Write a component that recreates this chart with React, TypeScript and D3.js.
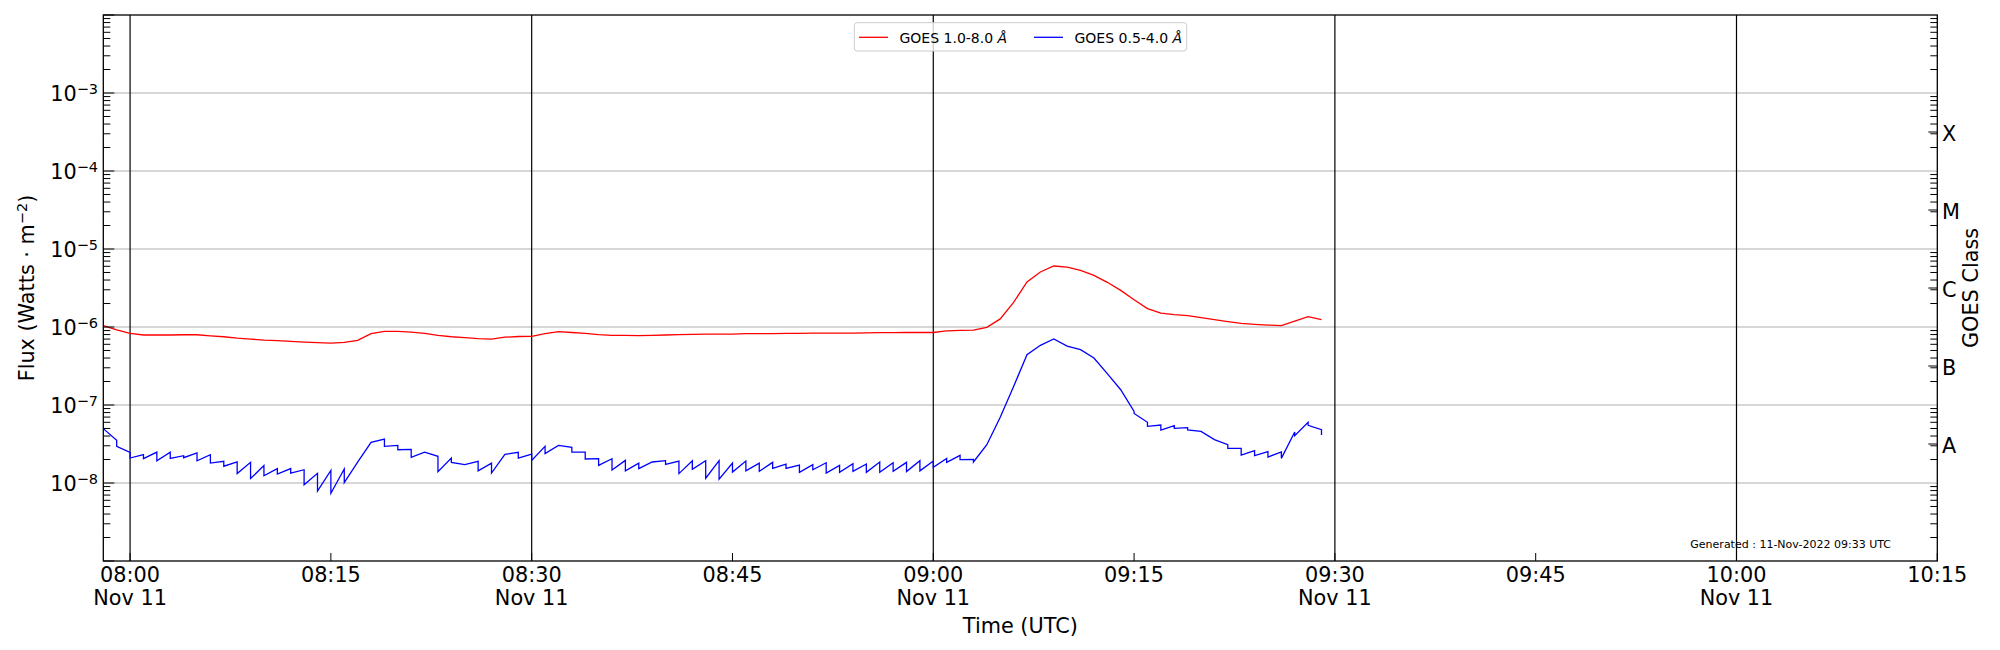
import { useEffect, useRef } from 'react';
import * as d3 from 'd3';

const WIDTH = 2000;
const HEIGHT = 650;

// GOES samples, one per minute from 07:58 UTC
const startTime = new Date(Date.UTC(2022, 10, 11, 7, 58));
const endTime = new Date(Date.UTC(2022, 10, 11, 10, 15));

// GOES 1.0-8.0 A
const longFlux = [
  1.04e-6, 9.2e-7, 8.3e-7, 7.9e-7, 7.9e-7, 7.9e-7, 7.95e-7, 7.95e-7, 7.7e-7, 7.5e-7,
  7.2e-7, 7.0e-7, 6.8e-7, 6.7e-7, 6.55e-7, 6.4e-7, 6.3e-7, 6.2e-7, 6.35e-7, 6.75e-7,
  8.2e-7, 8.8e-7, 8.8e-7, 8.6e-7, 8.3e-7, 7.8e-7, 7.5e-7, 7.3e-7, 7.1e-7, 7.0e-7,
  7.4e-7, 7.55e-7, 7.6e-7, 8.2e-7, 8.7e-7, 8.5e-7, 8.3e-7, 8.0e-7, 7.8e-7, 7.8e-7,
  7.73e-7, 7.8e-7, 7.9e-7, 7.97e-7, 8.05e-7, 8.1e-7, 8.1e-7, 8.1e-7, 8.2e-7, 8.2e-7,
  8.2e-7, 8.3e-7, 8.3e-7, 8.37e-7, 8.37e-7, 8.37e-7, 8.37e-7, 8.4e-7, 8.45e-7, 8.45e-7,
  8.5e-7, 8.5e-7, 8.5e-7, 8.9e-7, 9.05e-7, 9.1e-7, 9.9e-7, 1.27e-6, 2.07e-6, 3.78e-6,
  5.07e-6, 6.05e-6, 5.87e-6, 5.32e-6, 4.59e-6, 3.74e-6, 2.95e-6, 2.24e-6, 1.72e-6, 1.51e-6,
  1.44e-6, 1.4e-6, 1.32e-6, 1.24e-6, 1.17e-6, 1.11e-6, 1.08e-6, 1.06e-6, 1.04e-6, 1.19e-6,
  1.36e-6, 1.24e-6,
];

// GOES 0.5-4.0 A: each minute the trace reaches shortHigh then drops to shortLow
const shortHigh = [
  4.98e-8, 3.52e-8, 2.47e-8, 2.31e-8, 2.49e-8, 2.49e-8, 2.24e-8, 2.43e-8, 2.31e-8, 1.9e-8,
  1.86e-8, 1.84e-8, 1.67e-8, 1.53e-8, 1.53e-8, 1.48e-8, 1.33e-8, 1.45e-8, 1.51e-8, 1.85e-8,
  3.32e-8, 3.66e-8, 3.04e-8, 2.7e-8, 2.49e-8, 2.2e-8, 2.09e-8, 1.72e-8, 1.9e-8, 1.8e-8,
  2.33e-8, 2.47e-8, 2.35e-8, 2.95e-8, 3.04e-8, 2.86e-8, 2.49e-8, 2.05e-8, 2.05e-8, 1.95e-8,
  1.8e-8, 1.86e-8, 1.93e-8, 1.91e-8, 1.93e-8, 1.93e-8, 1.93e-8, 1.8e-8, 1.91e-8, 1.8e-8,
  1.84e-8, 1.75e-8, 1.7e-8, 1.72e-8, 1.82e-8, 1.68e-8, 1.77e-8, 1.75e-8, 1.86e-8, 1.82e-8,
  1.84e-8, 1.93e-8, 1.91e-8, 2.07e-8, 2.26e-8, 2.01e-8, 3.1e-8, 6.95e-8, 1.73e-7, 4.42e-7,
  5.82e-7, 7.02e-7, 5.7e-7, 5.12e-7, 4.01e-7, 2.52e-7, 1.57e-7, 8.3e-8, 6.0e-8, 5.54e-8,
  5.43e-8, 5.12e-8, 4.59e-8, 3.6e-8, 3.1e-8, 2.78e-8, 2.6e-8, 2.52e-8, 2.5e-8, 4.51e-8,
  6.0e-8, 4.83e-8,
];
const shortLow = [
  4.98e-8, 2.95e-8, 2.09e-8, 2.05e-8, 1.93e-8, 2.07e-8, 2.11e-8, 1.93e-8, 1.8e-8, 1.64e-8,
  1.32e-8, 1.14e-8, 1.24e-8, 1.3e-8, 1.34e-8, 9.5e-9, 7.9e-9, 7.4e-9, 1.01e-8, 1.85e-8,
  3.32e-8, 2.95e-8, 2.67e-8, 2.13e-8, 2.49e-8, 1.4e-8, 1.84e-8, 1.72e-8, 1.43e-8, 1.34e-8,
  2.33e-8, 2.09e-8, 1.95e-8, 2.38e-8, 3.04e-8, 2.49e-8, 2.03e-8, 1.68e-8, 1.47e-8, 1.43e-8,
  1.53e-8, 1.86e-8, 1.73e-8, 1.32e-8, 1.5e-8, 1.15e-8, 1.12e-8, 1.38e-8, 1.43e-8, 1.41e-8,
  1.54e-8, 1.54e-8, 1.37e-8, 1.48e-8, 1.34e-8, 1.37e-8, 1.41e-8, 1.37e-8, 1.37e-8, 1.41e-8,
  1.4e-8, 1.43e-8, 1.59e-8, 1.84e-8, 1.99e-8, 1.86e-8, 3.1e-8, 6.95e-8, 1.73e-7, 4.42e-7,
  5.82e-7, 7.02e-7, 5.7e-7, 5.12e-7, 4.01e-7, 2.52e-7, 1.57e-7, 7.8e-8, 5.33e-8, 4.78e-8,
  5.02e-8, 4.78e-8, 4.59e-8, 3.6e-8, 2.78e-8, 2.28e-8, 2.24e-8, 2.15e-8, 2.07e-8, 4.05e-8,
  5.48e-8, 4.12e-8,
];

const yExponents = [-3, -4, -5, -6, -7, -8];
const goesClasses = ['A', 'B', 'C', 'M', 'X'];
const classCenters = [3.162e-8, 3.162e-7, 3.162e-6, 3.162e-5, 3.162e-4];
const seriesNames = ['GOES 1.0-8.0 ', 'GOES 0.5-4.0 '];
const seriesColors = ['#ff0000', '#0000ff'];

const FONT = '"DejaVu Sans", sans-serif';
const LABEL_SIZE = '20.8px';

export default function App() {
  const svgRef = useRef<SVGSVGElement>(null);

  useEffect(() => {
    if (!svgRef.current) return;
    const svg = d3.select(svgRef.current);
    svg.selectAll('*').remove();

    const left = 103.3;
    const right = 1937.3;
    const top = 15;
    const bottom = 561;

    const x = d3.scaleUtc().domain([startTime, endTime]).range([left, right]);
    const y = d3.scaleLog().domain([1e-9, 1e-2]).range([bottom, top]);

    const timeAt = (i: number) => d3.utcMinute.offset(startTime, i);

    svg.append('rect').attr('width', WIDTH).attr('height', HEIGHT).attr('fill', 'white');

    // horizontal grid at decades
    svg.append('g')
      .selectAll('line')
      .data(yExponents)
      .enter().append('line')
      .attr('x1', left).attr('x2', right)
      .attr('y1', d => y(Math.pow(10, d))).attr('y2', d => y(Math.pow(10, d)))
      .attr('stroke', '#b0b0b0')
      .attr('stroke-width', 1.1);

    // vertical black lines every 30 min
    const halfHours = d3.utcMinute.every(30)!.range(startTime, endTime);
    svg.append('g')
      .selectAll('line')
      .data(halfHours)
      .enter().append('line')
      .attr('x1', d => x(d)).attr('x2', d => x(d))
      .attr('y1', top).attr('y2', bottom)
      .attr('stroke', 'black')
      .attr('stroke-width', 1.2);

    // data lines
    const line = d3.line<[Date, number]>()
      .x(d => x(d[0]))
      .y(d => y(d[1]));

    const longPts: [Date, number][] = longFlux.map((v, i) => [timeAt(i), v]);
    const shortPts: [Date, number][] = [];
    shortHigh.forEach((v, i) => {
      shortPts.push([timeAt(i), v]);
      if (shortLow[i] !== v) shortPts.push([timeAt(i), shortLow[i]]);
    });

    svg.append('path')
      .attr('d', line(longPts)!)
      .attr('fill', 'none')
      .attr('stroke', seriesColors[0])
      .attr('stroke-width', 1.3);
    svg.append('path')
      .attr('d', line(shortPts)!)
      .attr('fill', 'none')
      .attr('stroke', seriesColors[1])
      .attr('stroke-width', 1.3);

    // generated stamp
    svg.append('text')
      .attr('x', 1891).attr('y', 548)
      .attr('text-anchor', 'end')
      .style('font-family', FONT)
      .style('font-size', '11px')
      .text('Generated : 11-Nov-2022 09:33 UTC');

    // legend
    const lg = svg.append('g');
    lg.append('rect')
      .attr('x', 854.3).attr('y', 22.7)
      .attr('width', 332.4).attr('height', 28.3)
      .attr('rx', 3)
      .attr('fill', 'white').attr('fill-opacity', 0.8)
      .attr('stroke', '#cccccc').attr('stroke-width', 1);
    const legendX = [859, 1034];
    seriesNames.forEach((name, i) => {
      lg.append('line')
        .attr('x1', legendX[i]).attr('x2', legendX[i] + 29)
        .attr('y1', 37.3).attr('y2', 37.3)
        .attr('stroke', seriesColors[i]).attr('stroke-width', 1.3);
      const t = lg.append('text')
        .attr('x', legendX[i] + 40.5).attr('y', 42.5)
        .style('font-family', FONT)
        .style('font-size', '14px');
      t.append('tspan').text(name);
      t.append('tspan').style('font-style', 'italic').text('Å');
    });

    // spines
    svg.append('rect')
      .attr('x', left).attr('y', top)
      .attr('width', right - left).attr('height', bottom - top)
      .attr('fill', 'none').attr('stroke', 'black').attr('stroke-width', 1.3);

    // y ticks (left, inward)
    const allTicks = y.ticks();
    const isDecade = (v: number) => Math.abs(Math.log10(v) - Math.round(Math.log10(v))) < 1e-6;
    const minor = allTicks.filter(v => !isDecade(v));
    const major = allTicks.filter(v => isDecade(v));

    svg.append('g').selectAll('line').data(minor).enter().append('line')
      .attr('x1', left).attr('x2', left + 7)
      .attr('y1', d => y(d)).attr('y2', d => y(d))
      .attr('stroke', 'black').attr('stroke-width', 1);
    svg.append('g').selectAll('line').data(major).enter().append('line')
      .attr('x1', left).attr('x2', left + 11)
      .attr('y1', d => y(d)).attr('y2', d => y(d))
      .attr('stroke', 'black').attr('stroke-width', 1);

    const yl = svg.append('g').selectAll('text').data(yExponents).enter().append('text')
      .attr('x', 98).attr('y', d => y(Math.pow(10, d)) + 8.4)
      .attr('text-anchor', 'end')
      .style('font-family', FONT)
      .style('font-size', LABEL_SIZE);
    yl.append('tspan').text('10');
    yl.append('tspan')
      .attr('dy', -7.3)
      .style('font-size', '14.5px')
      .text(d => `\u2212${Math.abs(d)}`);

    // right axis: minor ticks and GOES class labels
    svg.append('g').selectAll('line').data(minor).enter().append('line')
      .attr('x1', right).attr('x2', right - 7)
      .attr('y1', d => y(d)).attr('y2', d => y(d))
      .attr('stroke', 'black').attr('stroke-width', 1);
    svg.append('g').selectAll('line').data(classCenters).enter().append('line')
      .attr('x1', right).attr('x2', right - 9)
      .attr('y1', d => y(d)).attr('y2', d => y(d))
      .attr('stroke', 'black').attr('stroke-width', 1);
    svg.append('g').selectAll('text').data(goesClasses).enter().append('text')
      .attr('x', 1942)
      .attr('y', (_, i) => y(classCenters[i]) + 9.2)
      .style('font-family', FONT)
      .style('font-size', LABEL_SIZE)
      .text(d => d);

    // x ticks every 15 minutes
    const quarterHours = d3.utcMinute.every(15)!.range(d3.utcMinute.offset(startTime, 1), d3.utcMinute.offset(endTime, 1));
    svg.append('g').selectAll('line').data(quarterHours).enter().append('line')
      .attr('x1', d => x(d)).attr('x2', d => x(d))
      .attr('y1', bottom).attr('y2', bottom - 8)
      .attr('stroke', 'black').attr('stroke-width', 1);
    const fmt = d3.utcFormat('%H:%M');
    const dayFmt = d3.utcFormat('%b %d');
    svg.append('g').selectAll('text').data(quarterHours).enter().append('text')
      .attr('x', d => x(d)).attr('y', 582)
      .attr('text-anchor', 'middle')
      .style('font-family', FONT)
      .style('font-size', LABEL_SIZE)
      .text(d => fmt(d));
    svg.append('g').selectAll('text')
      .data(quarterHours.filter(d => d.getUTCMinutes() % 30 === 0 && +d < +endTime))
      .enter().append('text')
      .attr('x', d => x(d)).attr('y', 605)
      .attr('text-anchor', 'middle')
      .style('font-family', FONT)
      .style('font-size', LABEL_SIZE)
      .text(d => dayFmt(d));

    // axis labels
    svg.append('text')
      .attr('x', (left + right) / 2).attr('y', 633)
      .attr('text-anchor', 'middle')
      .style('font-family', FONT)
      .style('font-size', LABEL_SIZE)
      .text('Time (UTC)');

    const fl = svg.append('text')
      .attr('transform', `translate(34,${(top + bottom) / 2}) rotate(-90)`)
      .attr('text-anchor', 'middle')
      .style('font-family', FONT)
      .style('font-size', LABEL_SIZE);
    fl.append('tspan').text('Flux (Watts \u00b7 m');
    fl.append('tspan').attr('dy', -7.3).style('font-size', '14.5px').text('\u22122');
    fl.append('tspan').attr('dy', 7.3).text(')');

    svg.append('text')
      .attr('transform', `translate(1978,${(top + bottom) / 2}) rotate(-90)`)
      .attr('text-anchor', 'middle')
      .style('font-family', FONT)
      .style('font-size', LABEL_SIZE)
      .text('GOES Class');
  }, []);

  return (
    <svg
      ref={svgRef}
      width={WIDTH}
      height={HEIGHT}
      style={{ position: 'absolute', left: 0, top: 0 }}
    />
  );
}
